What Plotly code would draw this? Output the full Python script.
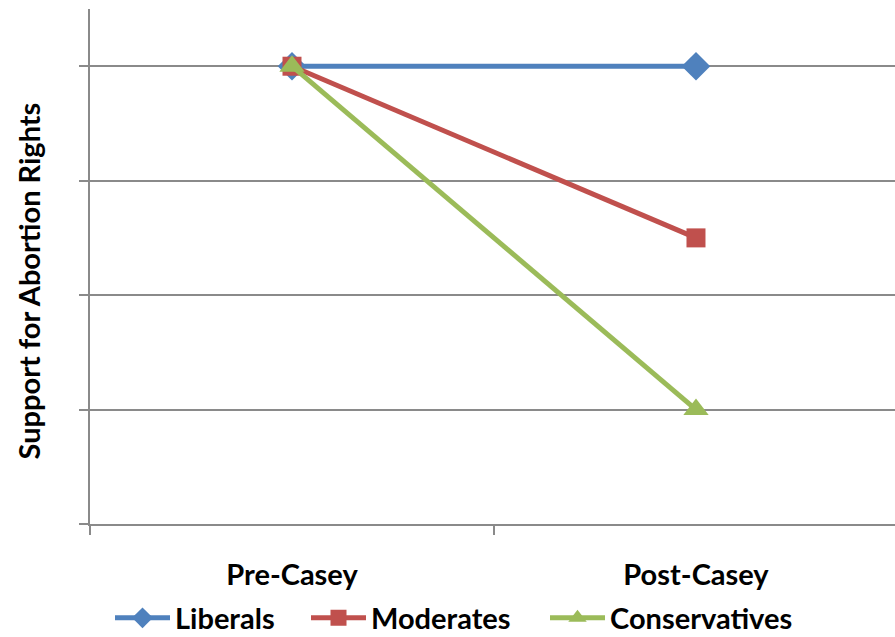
import plotly.graph_objects as go

periods = ["Pre-Casey", "Post-Casey"]
liberals = [4, 4]
moderates = [4, 2.5]
conservatives = [4, 1]

series = [
    ("Liberals", liberals, "#4F81BD", "diamond", 22, "legend"),
    ("Moderates", moderates, "#C0504D", "square", 19, "legend2"),
    ("Conservatives", conservatives, "#9BBB59", "triangle-up", 22, "legend3"),
]
# left edge (px) of each legend entry along the bottom row
legend_left = {"legend": 110, "legend2": 306, "legend3": 545}

fig = go.Figure()
for name, vals, color, symbol, size, leg in series:
    fig.add_trace(go.Scatter(
        x=periods, y=vals, name=name, mode="lines+markers", legend=leg,
        line=dict(color=color, width=5),
        marker=dict(symbol=symbol, size=size, color=color, line=dict(width=0)),
    ))

font_family = "Lato, 'Open Sans', sans-serif"
grid = "#8a8a8a"
label_font = dict(family=font_family, size=29, color="black", weight="bold")

W, H = 895, 637
legend_common = dict(
    orientation="h", xref="container", xanchor="left",
    yref="paper", y=-0.133, yanchor="top",
    bgcolor="rgba(0,0,0,0)", font=label_font, itemwidth=55,
)

fig.update_layout(
    width=W, height=H,
    margin=dict(l=90, r=0, t=9, b=113, autoexpand=False),
    plot_bgcolor="white", paper_bgcolor="white",
    font=dict(family=font_family, size=24, color="black"),
    showlegend=True,
    legend=dict(x=legend_left["legend"] / W, **legend_common),
    legend2=dict(x=legend_left["legend2"] / W, **legend_common),
    legend3=dict(x=legend_left["legend3"] / W, **legend_common),
    xaxis=dict(
        type="category", range=[-0.5, 1.4926], automargin=False,
        showgrid=False, showline=True, linecolor=grid, linewidth=2,
        ticks="outside", ticklen=9, tickwidth=2, tickcolor=grid,
        tickson="boundaries", ticklabelstandoff=24,
        tickfont=label_font, zeroline=False,
    ),
    yaxis=dict(
        range=[0, 4.5], dtick=1, tick0=0, automargin=False,
        showgrid=True, gridcolor=grid, gridwidth=2,
        showline=True, linecolor=grid, linewidth=2,
        ticks="outside", ticklen=9, tickwidth=2, tickcolor=grid,
        showticklabels=False, zeroline=False,
    ),
    annotations=[dict(
        text="Support for Abortion Rights", textangle=-90,
        xref="paper", yref="paper", x=(28 - 90) / 805, y=0.471,
        xanchor="center", yanchor="middle", showarrow=False,
        font=label_font,
    )],
)

fig.write_html("out.html")
